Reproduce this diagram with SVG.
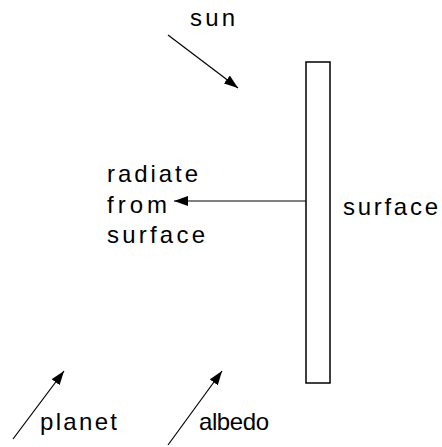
<svg xmlns="http://www.w3.org/2000/svg" width="442" height="447" viewBox="0 0 442 447">
<style>
text{font-family:"Liberation Sans","DejaVu Sans",sans-serif;font-size:24px;fill:#000;}
.ln{stroke:#000;stroke-width:1.2;fill:none;}
</style>
<defs>
<marker id="ah" viewBox="0 0 14 10" refX="14" refY="5" markerWidth="14" markerHeight="10" markerUnits="userSpaceOnUse" orient="auto">
<path d="M0,0 L14,5 L0,10 Z" fill="#000"/>
</marker>
</defs>
<rect width="442" height="447" fill="#fff"/>
<g id="surface-node">
<rect x="306" y="62" width="24" height="321" fill="#fff" stroke="#000" stroke-width="1.5"/>
<text x="343" y="215" textLength="95" lengthAdjust="spacing">surface</text>
</g>
<g id="sun-node"><text x="190" y="26" textLength="45" lengthAdjust="spacing">sun</text></g>
<g id="radiate-node">
<text x="107" y="182" textLength="91" lengthAdjust="spacing">radiate</text>
<text x="107" y="213" textLength="60" lengthAdjust="spacing">from</text>
<text x="107" y="243" textLength="98" lengthAdjust="spacing">surface</text>
</g>
<g id="planet-node"><text x="40" y="430" textLength="77" lengthAdjust="spacing">planet</text></g>
<g id="albedo-node"><text x="199" y="430" textLength="70" lengthAdjust="spacing">albedo</text></g>
<g id="connectors">
<line class="ln" x1="168" y1="35" x2="238" y2="88" marker-end="url(#ah)"/>
<line class="ln" x1="306" y1="201" x2="174" y2="201" marker-end="url(#ah)"/>
<line class="ln" x1="13" y1="439" x2="64" y2="371" marker-end="url(#ah)"/>
<line class="ln" x1="168" y1="445" x2="222" y2="371" marker-end="url(#ah)"/>
</g>
</svg>
